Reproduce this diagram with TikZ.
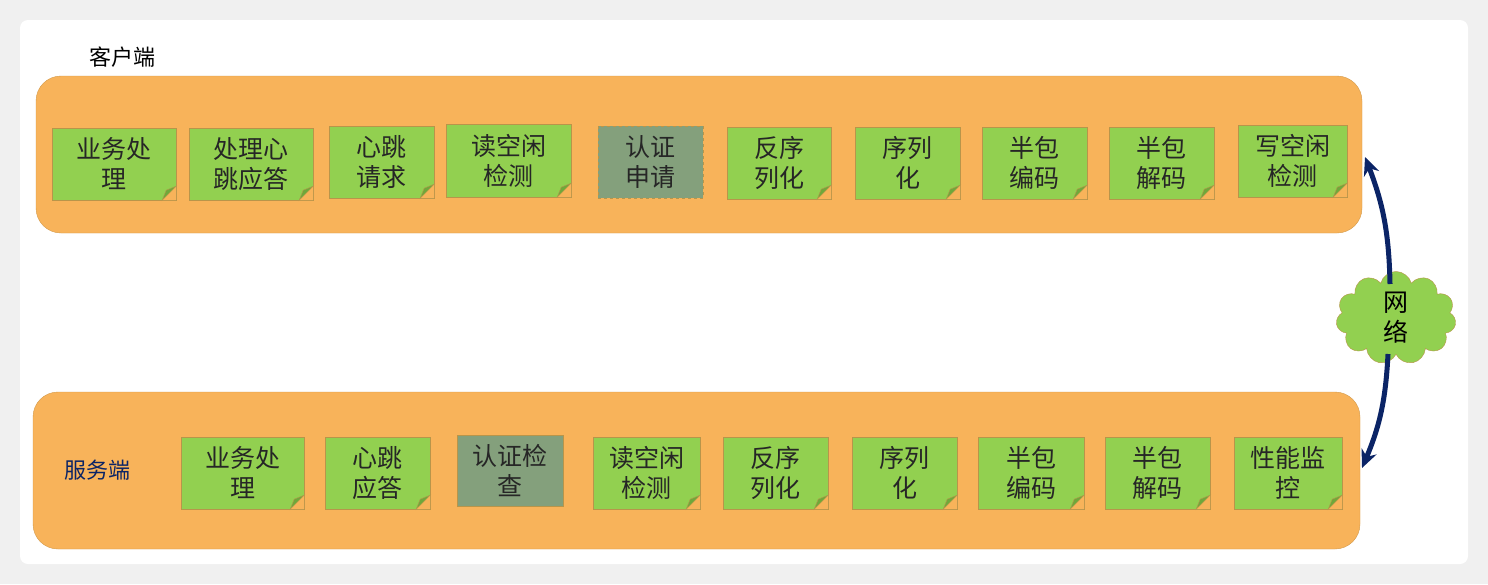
\documentclass[tikz,border=0pt]{standalone}
\usepackage{fontspec}
\setmainfont{Noto Sans CJK SC}
\usetikzlibrary{shapes.symbols,arrows.meta}
\definecolor{boxorange}{HTML}{F8B35A}
\definecolor{boxline}{HTML}{D39A4A}
\definecolor{notegreen}{HTML}{92D050}
\definecolor{noteline}{HTML}{B8954A}
\definecolor{foldgreen}{HTML}{6FA83A}
\definecolor{notegrey}{HTML}{84A07C}
\definecolor{netblue}{HTML}{0B2466}
\tikzset{
  layer/.style={draw=boxline,fill=boxorange,rounded corners=25pt},
  note/.style={draw=noteline,fill=notegreen,inner sep=0pt,align=center,
    font=\fontsize{25}{30}\selectfont,text=black!85},
  greynote/.style={note,fill=notegrey},
  netarrow/.style={-{Stealth[length=18pt,width=16pt]},line width=5pt,draw=netblue}
}
% a note from (x1,y1) to (x2,y2), corner folded
\newcommand\putnote[6][note]{%
  \node[#1,minimum width=#4-#2,minimum height=#5-#3] (#6)
    at ({(#2+#4)/2},{(#3+#5)/2}) {\phantom{x}};
}
\begin{document}
\begin{tikzpicture}[x=1pt,y=-1pt]
  \fill[gray!12] (0,0) rectangle (1488,584);
  \fill[white,rounded corners=8pt] (20,20) rectangle (1468,564);
  \useasboundingbox (0,0) rectangle (1488,584);

  \draw[layer] (36,76) rectangle (1362,233);
  \draw[layer] (33,392) rectangle (1360,549);
  \node[font=\fontsize{22}{26}\selectfont] (client) at (122,57) {客户端};
  \node[font=\fontsize{22}{26}\selectfont,text=netblue] (server) at (97,470) {服务端};

  % client side
  \foreach \xa/\xb/\ya/\yb/\txt [count=\i] in
    {52/176/128/200/{业务处\\理},189/313/128/200/{处理心\\跳应答},
     329/434/126/198/{心跳\\请求},446/571/124/197/{读空闲\\检测},
     598/703/126/198/{认证\\申请},727/831/127/199/{反序\\列化},
     855/960/127/199/{序列\\化},982/1087/127/199/{半包\\编码},
     1109/1214/127/199/{半包\\解码},1238/1347/125/197/{写空闲\\检测}}
  {
    \ifnum\i=5
      \node[greynote,dashed,minimum width=\xb-\xa,minimum height=\yb-\ya]
        (c\i) at ({(\xa+\xb)/2},{(\ya+\yb)/2}) {\txt};
    \else
      \node[note,minimum width=\xb-\xa,minimum height=\yb-\ya]
        (c\i) at ({(\xa+\xb)/2},{(\ya+\yb)/2}) {\txt};
      \fill[boxorange] (c\i.south east) -- ++(-14,0) -- ++(14,-14) -- cycle;
      \filldraw[draw=noteline,fill=foldgreen] (c\i.south east) ++(-14,0)
        -- ++(4,-10) -- ++(10,-4) -- cycle;
    \fi
  }

  % server side
  \foreach \xa/\xb/\ya/\yb/\txt [count=\i] in
    {181/304/437/509/{业务处\\理},325/430/437/509/{心跳\\应答},
     457/563/435/506/{认证检\\查},593/700/437/509/{读空闲\\检测},
     723/828/437/509/{反序\\列化},852/957/437/509/{序列\\化},
     978/1084/437/509/{半包\\编码},1105/1210/437/509/{半包\\解码},
     1234/1342/437/509/{性能监\\控}}
  {
    \ifnum\i=3
      \node[greynote,minimum width=\xb-\xa,minimum height=\yb-\ya]
        (s\i) at ({(\xa+\xb)/2},{(\ya+\yb)/2}) {\txt};
    \else
      \node[note,minimum width=\xb-\xa,minimum height=\yb-\ya]
        (s\i) at ({(\xa+\xb)/2},{(\ya+\yb)/2}) {\txt};
      \fill[boxorange] (s\i.south east) -- ++(-14,0) -- ++(14,-14) -- cycle;
      \filldraw[draw=noteline,fill=foldgreen] (s\i.south east) ++(-14,0)
        -- ++(4,-10) -- ++(10,-4) -- cycle;
    \fi
  }

  \node[cloud,cloud puffs=11,aspect=1.5,draw=noteline,fill=notegreen,
    minimum width=110pt,minimum height=78pt,inner sep=0pt,align=center,
    font=\fontsize{25}{30}\selectfont] (net) at (1396,318) {网\\络};
  \coordinate (cin) at (1365,157);
  \coordinate (sin) at (1362,468);
  \draw[netarrow] (1390,284) to[bend right=10] (cin);
  \draw[netarrow] (1388,354) to[bend left=10] (sin);
\end{tikzpicture}
\end{document}
